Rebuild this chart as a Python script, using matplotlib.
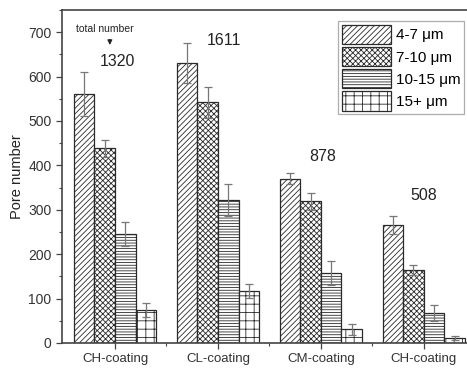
import numpy as np
import matplotlib.pyplot as plt
import matplotlib as mpl

mpl.rcParams['font.family'] = ['Liberation Sans', 'DejaVu Sans']
mpl.rcParams['hatch.color'] = '#666666'
mpl.rcParams['hatch.linewidth'] = 0.6

samples = ['CH-coating', 'CL-coating', 'CM-coating', 'CH-coating']
sizes = ['4-7 \u03bcm', '7-10 \u03bcm', '10-15 \u03bcm', '15+ \u03bcm']
totals = ['1320', '1611', '878', '508']

# pore counts per size class, one value per sample
pores_4_7 = [561, 630, 370, 265]
pores_7_10 = [439, 542, 319, 165]
pores_10_15 = [245, 322, 158, 67]
pores_15 = [75, 117, 31, 11]

err_4_7 = [50, 45, 12, 20]
err_7_10 = [19, 35, 19, 11]
err_10_15 = [27, 36, 27, 18]
err_15 = [16, 16, 12, 5]

series = [pores_4_7, pores_7_10, pores_10_15, pores_15]
errors = [err_4_7, err_7_10, err_10_15, err_15]
hatches = ['//////', 'xxxxxx', '------', '++']

fig = plt.figure(figsize=(4.67, 3.69), dpi=100)
ax = fig.add_axes([62/467, 26/369, 405/467, 333/369])

x = np.arange(len(samples))
w = 0.2
for i, (vals, errs, h) in enumerate(zip(series, errors, hatches)):
    pos = x + (i - 1.5) * w
    ax.bar(pos, vals, w, color='white', edgecolor='#2a2a2a', linewidth=0.9,
           hatch=h, label=sizes[i], zorder=2)
    ax.errorbar(pos, vals, yerr=errs, fmt='none', ecolor='#777777',
                elinewidth=0.9, capsize=3, capthick=0.9, zorder=3)

# total pore number above each group
label_y = [635, 682, 419, 333]
label_dx = [0.02, 0.06, 0.02, 0.0]
for i, t in enumerate(totals):
    ax.text(x[i] + label_dx[i], label_y[i], t, ha='center', va='center',
            fontsize=11.5, color='#222222')
ax.text(-0.1, 707, 'total number', ha='center', va='center', fontsize=7.5,
        color='#222222')
ax.annotate('', xy=(-0.05, 665), xytext=(-0.05, 690),
            arrowprops=dict(arrowstyle='-|>', color='#222222', lw=0.8,
                            mutation_scale=7))

ax.set_xlim(-0.515, 3.42)
ax.set_ylim(0, 750)
ax.set_xticks(x)
ax.set_xticklabels(samples, fontsize=9.5)
ax.set_xticks(x[:-1] + 0.5, minor=True)
ax.set_yticks(np.arange(0, 701, 100))
ax.set_yticks(np.arange(50, 751, 100), minor=True)
ax.tick_params(axis='y', labelsize=10, colors='#333333')
ax.tick_params(axis='x', colors='#333333')
ax.tick_params(which='major', length=4, width=0.9, color='#444444')
ax.tick_params(which='minor', length=2.5, width=0.8, color='#444444')
ax.set_ylabel('Pore number', fontsize=10.5, color='#222222', labelpad=3)

for s in ['left', 'bottom', 'top']:
    ax.spines[s].set_color('#444444')
    ax.spines[s].set_linewidth(1.2)
ax.spines['right'].set_visible(False)

leg = ax.legend(loc='upper right', bbox_to_anchor=(0.993, 0.967), fontsize=11,
                frameon=True, fancybox=False, edgecolor='#999999',
                handlelength=3.2, handleheight=1.55, handletextpad=0.3,
                labelspacing=0.2, borderpad=0.25, borderaxespad=0)
leg.get_frame().set_linewidth(0.9)

fig.savefig('out.png', dpi=100)
